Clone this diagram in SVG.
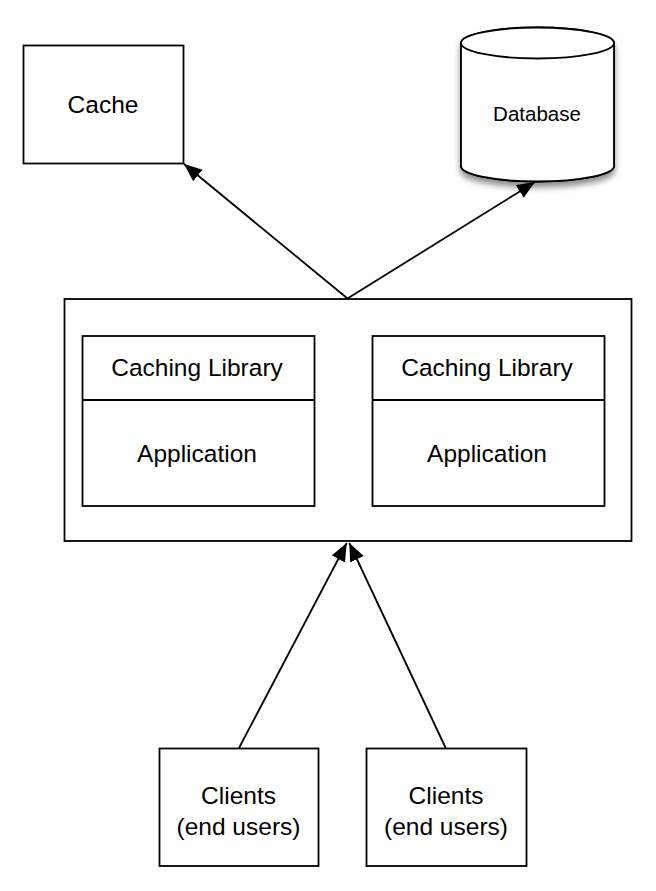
<svg xmlns="http://www.w3.org/2000/svg" width="656" height="891" viewBox="0 0 656 891">
<style>
.box{fill:#fff;stroke:#000;stroke-width:1.8}
.t{font-family:"Liberation Sans",Arial,sans-serif;font-size:24.5px;fill:#000;text-anchor:middle}
.edge{fill:none;stroke:#000;stroke-width:1.8}
</style>
<defs>
<marker id="ah" markerUnits="userSpaceOnUse" markerWidth="20" markerHeight="16" refX="18" refY="8" orient="auto">
<path d="M0,0.5 L18,8 L0,15.5 Z" fill="#000"/>
</marker>
<filter id="sh" x="-20%" y="-20%" width="140%" height="150%">
<feDropShadow dx="0" dy="5" stdDeviation="3" flood-color="#000" flood-opacity="0.45"/>
</filter>
</defs>
<rect width="656" height="891" fill="#fff"/>
<g id="cache">
<rect class="box" x="23.5" y="45.5" width="160" height="118"/>
<text class="t" x="103" y="112.5">Cache</text>
</g>
<g id="database">
<path class="box" filter="url(#sh)" d="M461,43 L461,166 A76.5,15.5 0 0 0 614,166 L614,43 A76.5,15.5 0 0 0 461,43 Z"/>
<path class="box" d="M461,43 L461,166 A76.5,15.5 0 0 0 614,166 L614,43 A76.5,15.5 0 0 0 461,43 Z"/>
<path class="edge" d="M461,43 A76.5,15.5 0 0 0 614,43"/>
<text class="t" x="537" y="120.5" style="font-size:20.5px">Database</text>
</g>
<g id="server">
<rect class="box" x="64.5" y="299" width="567" height="242"/>
</g>
<g id="app1">
<rect class="box" x="82.5" y="336" width="232" height="170"/>
<line class="edge" x1="82.5" y1="400" x2="314.5" y2="400"/>
<text class="t" x="197" y="376">Caching Library</text>
<text class="t" x="197" y="461.5">Application</text>
</g>
<g id="app2">
<rect class="box" x="372.5" y="336" width="232" height="170"/>
<line class="edge" x1="372.5" y1="400" x2="604.5" y2="400"/>
<text class="t" x="487" y="376">Caching Library</text>
<text class="t" x="487" y="461.5">Application</text>
</g>
<g id="client1">
<rect class="box" x="159.5" y="748.5" width="159" height="117.5"/>
<text class="t" x="238.5" y="803.5">Clients</text>
<text class="t" x="238.5" y="835">(end users)</text>
</g>
<g id="client2">
<rect class="box" x="366.5" y="748.5" width="160" height="117.5"/>
<text class="t" x="446" y="803.5">Clients</text>
<text class="t" x="446" y="835">(end users)</text>
</g>
<g id="connectors">
<line class="edge" x1="347.5" y1="298.5" x2="184" y2="164" marker-end="url(#ah)"/>
<line class="edge" x1="347.5" y1="298.5" x2="535" y2="182" marker-end="url(#ah)"/>
<line class="edge" x1="239" y1="748" x2="346.7" y2="543" marker-end="url(#ah)"/>
<line class="edge" x1="445.7" y1="748" x2="349.3" y2="543" marker-end="url(#ah)"/>
</g>
</svg>
